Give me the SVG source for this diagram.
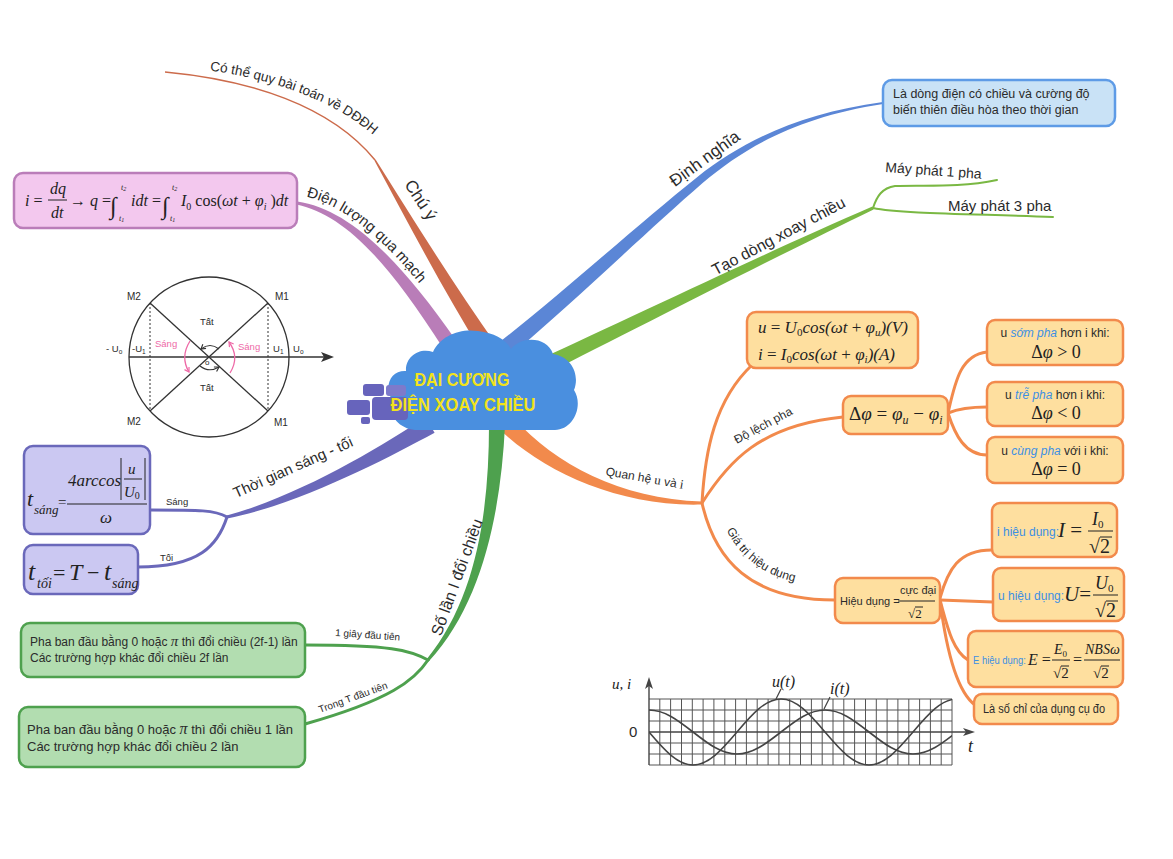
<svg xmlns="http://www.w3.org/2000/svg" width="1173" height="859" viewBox="0 0 1173 859">
  <style>
    .sans { font-family: "Liberation Sans", Arial, sans-serif; fill: #2b2b2b; }
    .m { font-family: "Liberation Serif", "Times New Roman", serif; font-style: italic; fill: #222; }
    .r { font-style: normal; }
    .hl { fill: #3d8fe3; font-style: italic; }
    .blue-t { fill: #3d8fe3; }
    .box-o { fill: #fedf9f; stroke: #f28a4c; stroke-width: 2.5; }
    .box-b { fill: #c9e2f6; stroke: #5e9be6; stroke-width: 2.5; }
    .box-p { fill: #f3c8ee; stroke: #ba7db9; stroke-width: 2.5; }
    .box-v { fill: #cbc8f2; stroke: #6a68ba; stroke-width: 2.5; }
    .box-g { fill: #b2ddb0; stroke: #4ea14e; stroke-width: 2.5; }
    .thin-o { fill: none; stroke: #f28a4c; stroke-width: 3; stroke-linecap: round; }
    .thin-g { fill: none; stroke: #4ea14e; stroke-width: 3; stroke-linecap: round; }
    .thin-lg { fill: none; stroke: #7ab843; stroke-width: 2; stroke-linecap: round; }
    .thin-v { fill: none; stroke: #6a68ba; stroke-width: 3; stroke-linecap: round; }
    .grid line { stroke: #555; stroke-width: 1; }
    .wave { fill: none; stroke: #444; stroke-width: 1.6; }
    .fl { stroke: #222; stroke-width: 1; }
  </style>
  <defs>
    <marker id="ah-pink" viewBox="0 0 8 8" refX="6" refY="4" markerWidth="7" markerHeight="7" markerUnits="userSpaceOnUse" orient="auto">
      <path d="M1,1 L6,4 L1,7" fill="none" stroke="#ee6aa7" stroke-width="1.4"/>
    </marker>
    <marker id="ah-dark" viewBox="0 0 8 8" refX="6" refY="4" markerWidth="7" markerHeight="7" markerUnits="userSpaceOnUse" orient="auto">
      <path d="M1,1 L6,4 L1,7" fill="none" stroke="#333" stroke-width="1.3"/>
    </marker>
    <path id="tp-chuy" d="M168,66 C254,72 339,96 388,149"/>
    <path id="tp-dienluong" d="M298.5,195 C346.7,203 399.2,249 460,338"/>
    <path id="tp-giatri" d="M716,502 C730,555 765,586 835,586"/>
    <clipPath id="grid-clip"><rect x="649" y="698" width="303" height="68"/></clipPath>
  </defs>

  <rect width="1173" height="859" fill="#ffffff"/>

  <!-- branches and connectors -->
  <g id="connectors">
    <!-- Chú ý -->
    <path d="M165,72 C250,80 330,105 375,160" fill="none" stroke="#cc6b4b" stroke-width="1.5"/>
    <path d="M496.9,345.8 C455.2,286.9 412.6,218.4 375.6,159.6 L374.4,160.4 C407.4,221.6 444.8,293.1 483.1,354.2 Z" fill="#cc6b4b"/>
    <!-- Điện lượng qua mạch -->
    <path d="M297.3,201.5 C345.6,208.6 394.6,252 456.2,340.8 L443.8,349.2 C385.4,258 344.4,215.4 296.7,204.5 Z" fill="#b97db8"/>
    <!-- Định nghĩa -->
    <path d="M489.4,350 C555.4,299.3 636.4,225.6 697.4,176.9 C743.1,140.7 799.8,113.3 882.9,102 L883.1,104 C800.2,116.7 746.9,145.3 702.6,183.1 C643.6,234.4 564.6,310.7 500.6,364 Z" fill="#5b86d6"/>
    <!-- Tạo dòng xoay chiều -->
    <path d="M536.5,360.8 C637.4,314.6 768.3,251.4 872.4,206.6 L873.6,209.4 C771.7,258.6 642.6,325.4 543.5,375.2 Z" fill="#7ab843"/>
    <path class="thin-lg" d="M873,208 C877,196 882,188 895,186 C925,185 960,188 997,180"/>
    <path class="thin-lg" d="M873,208 C900,214 980,214 1053,217"/>
    <!-- Quan hệ u và i -->
    <path d="M514.4,418.7 C554.6,463.5 620,499 702,501.5 L702,504.5 C620,507 545.4,472.5 501.6,431.3 Z" fill="#f28a4c"/>
    <path class="thin-o" d="M702,503 C705,450 715,400 752,365"/>
    <path class="thin-o" d="M702,503 C728,462 760,425 843,417"/>
    <path class="thin-o" d="M702,503 C715,560 750,600 835,600"/>
    <path class="thin-o" d="M948,413 C955,383 960,355 987,352"/>
    <path class="thin-o" d="M948,413 C960,408 975,407 987,407"/>
    <path class="thin-o" d="M948,413 C955,435 965,455 987,455"/>
    <path class="thin-o" d="M940,598 C948,570 958,550 992,550"/>
    <path class="thin-o" d="M940,600 L993,602"/>
    <path class="thin-o" d="M940,600 C947,625 952,650 968,660"/>
    <path class="thin-o" d="M940,600 C945,640 955,690 975,705"/>
    <!-- Số lần I đổi chiều -->
    <path d="M505,425.2 C501,510.1 483,602.6 429.1,661 L426.9,659 C477,597.4 489,509.9 489,424.8 Z" fill="#4ea14e"/>
    <path class="thin-g" d="M428,660 C410,650 390,645 305,645"/>
    <path class="thin-g" d="M428,660 C415,680 390,700 305,724"/>
    <!-- Thời gian sáng - tối -->
    <path d="M434.6,432.7 C388.3,457.6 300.9,503.9 227.3,518.5 L226.7,515.5 C299.1,496.1 381.7,446.4 425.4,417.3 Z" fill="#6a68ba"/>
    <path class="thin-v" d="M227,517 C215,510 200,510 150,510"/>
    <path class="thin-v" d="M227,517 C218,545 200,567 138,567"/>
  </g>

  <!-- branch labels -->
  <g id="branch-labels" class="sans">
    <text font-size="13.5"><textPath href="#tp-chuy" startOffset="42">Có thể quy bài toán về DĐĐH</textPath></text>
    <text font-size="17" transform="translate(416,203) rotate(57)" text-anchor="middle">Chú ý</text>
    <text font-size="15"><textPath href="#tp-dienluong" startOffset="8">Điện lượng qua mạch</textPath></text>
    <text font-size="17" transform="translate(708,163) rotate(-36)" text-anchor="middle">Định nghĩa</text>
    <text font-size="16" transform="translate(781,241) rotate(-28)" text-anchor="middle">Tạo dòng xoay chiều</text>
    <text font-size="14" transform="translate(885,172) rotate(4)">Máy phát 1 pha</text>
    <text font-size="15" x="948" y="211">Máy phát 3 pha</text>
    <text font-size="12" transform="translate(644,482) rotate(10)" text-anchor="middle">Quan hệ <tspan font-family="Liberation Serif, serif" font-size="13">u</tspan> và <tspan font-family="Liberation Serif, serif" font-size="13">i</tspan></text>
    <text font-size="12" transform="translate(765,429) rotate(-28)" text-anchor="middle">Độ lệch pha</text>
    <text font-size="12"><textPath href="#tp-giatri" startOffset="30">Giá trị hiệu dụng</textPath></text>
    <text font-size="16" transform="translate(462,579) rotate(-70)" text-anchor="middle">Số lần I đổi chiều</text>
    <text font-size="10" transform="translate(335,636) rotate(4)">1 giây đầu tiên</text>
    <text font-size="10" transform="translate(320,713) rotate(-20)">Trong T đầu tiên</text>
    <text font-size="15" transform="translate(295,472) rotate(-24)" text-anchor="middle">Thời gian sáng - tối</text>
    <text font-size="9.5" x="166" y="505">Sáng</text>
    <text font-size="9.5" x="160" y="561">Tối</text>
  </g>

  <!-- central topic -->
  <g id="center">
    <path d="M418,430 C400,430 387,416 391,398 C384,384 392,370 406,371 C405,357 419,347 433,352 C440,336 460,328 478,331 C495,333 506,340 511,349 C521,336 547,336 553,354 C572,357 580,375 574,390 C584,406 573,430 555,430 Z" fill="#4a8fdf"/>
    <g fill="#6764bc">
      <rect x="363" y="384" width="21" height="12" rx="3"/>
      <rect x="386" y="385" width="20" height="11" rx="3" fill="#7d7acb"/>
      <rect x="372" y="397" width="36" height="23" rx="4"/>
      <rect x="347" y="400" width="23" height="15" rx="3"/>
      <rect x="361" y="417" width="9" height="7" rx="2"/>
    </g>
    <text x="462" y="386" text-anchor="middle" font-family="Liberation Sans, Arial, sans-serif" font-weight="bold" font-size="18" fill="#f2e31b" textLength="95" lengthAdjust="spacingAndGlyphs">ĐẠI CƯƠNG</text>
    <text x="463" y="411" text-anchor="middle" font-family="Liberation Sans, Arial, sans-serif" font-weight="bold" font-size="18" fill="#f2e31b" textLength="145" lengthAdjust="spacingAndGlyphs">ĐIỆN XOAY CHIỀU</text>
  </g>

  <!-- definition -->
  <g id="node-dinh-nghia">
    <rect class="box-b" x="883" y="80" width="232" height="46" rx="9"/>
    <text class="sans" font-size="12.5" x="893" y="98">Là dòng điện có chiều và cường độ</text>
    <text class="sans" font-size="12.5" x="893" y="114">biến thiên điều hòa theo thời gian</text>
  </g>

  <!-- charge formula -->
  <g id="node-dien-luong">
    <rect class="box-p" x="14" y="173" width="283" height="55" rx="9"/>
    <g class="m" font-size="16">
      <text x="25" y="206">i <tspan class="r">=</tspan></text>
      <text x="50" y="194">dq</text>
      <line class="fl" x1="48" y1="200" x2="67" y2="200"/>
      <text x="51" y="218">dt</text>
      <text x="70" y="206"><tspan class="r">→</tspan> q <tspan class="r">=</tspan></text>
      <text x="110" y="214" font-size="24" class="r">∫</text>
      <text x="121" y="190" font-size="8">t<tspan font-size="6" dy="1">2</tspan></text>
      <text x="119" y="221" font-size="8">t<tspan font-size="6" dy="1">1</tspan></text>
      <text x="131" y="206">idt <tspan class="r">=</tspan></text>
      <text x="162" y="214" font-size="24" class="r">∫</text>
      <text x="172" y="190" font-size="8">t<tspan font-size="6" dy="1">2</tspan></text>
      <text x="170" y="221" font-size="8">t<tspan font-size="6" dy="1">1</tspan></text>
      <text x="181" y="206">I<tspan font-size="10" dy="4" class="r">0</tspan><tspan dy="-4" class="r"> cos(</tspan>ωt <tspan class="r">+</tspan> φ<tspan font-size="10" dy="4">i</tspan><tspan dy="-4" class="r"> )</tspan>dt</text>
    </g>
  </g>

  <!-- phase circle -->
  <g id="phase-circle">
    <circle cx="209" cy="357" r="80" fill="none" stroke="#333" stroke-width="1.3"/>
    <line x1="150" y1="303" x2="268" y2="411" stroke="#333" stroke-width="1.3"/>
    <line x1="268" y1="303" x2="150" y2="411" stroke="#333" stroke-width="1.3"/>
    <line x1="150" y1="303" x2="150" y2="411" stroke="#333" stroke-width="1" stroke-dasharray="2,2"/>
    <line x1="268" y1="303" x2="268" y2="411" stroke="#333" stroke-width="1" stroke-dasharray="2,2"/>
    <line x1="129" y1="357" x2="326" y2="357" stroke="#333" stroke-width="1.3"/>
    <path d="M334,357 L321,352 L324,357 L321,362 Z" fill="#333"/>
    <path d="M190,341 Q180,357 189,372" fill="none" stroke="#ee6aa7" stroke-width="1.3" marker-end="url(#ah-pink)"/>
    <path d="M230,373 Q240,357 229,342" fill="none" stroke="#ee6aa7" stroke-width="1.3" marker-end="url(#ah-pink)"/>
    <path d="M219,349 Q210,342 201,349" fill="none" stroke="#333" stroke-width="1.1" marker-end="url(#ah-dark)"/>
    <path d="M200,366 Q209,373 219,367" fill="none" stroke="#333" stroke-width="1.1" marker-end="url(#ah-dark)"/>
    <g class="sans" font-size="10">
      <text x="127" y="300">M2</text>
      <text x="275" y="300">M1</text>
      <text x="127" y="425">M2</text>
      <text x="274" y="426">M1</text>
      <text x="200" y="325" font-size="9.5">Tất</text>
      <text x="200" y="391" font-size="9.5">Tất</text>
      <text x="106" y="352" font-size="9.5">- U<tspan font-size="6.5" dy="2">o</tspan></text>
      <text x="132" y="352" font-size="9.5">-U<tspan font-size="6.5" dy="2">1</tspan></text>
      <text x="273" y="352" font-size="9.5">U<tspan font-size="6.5" dy="2">1</tspan></text>
      <text x="293" y="352" font-size="9.5">U<tspan font-size="6.5" dy="2">o</tspan></text>
      <text x="155" y="347" font-size="9.5" fill="#ee6aa7">Sáng</text>
      <text x="238" y="350" font-size="9.5" fill="#ee6aa7">Sáng</text>
      <text x="205" y="365" font-size="8">o</text>
    </g>
  </g>

  <!-- light / dark durations -->
  <g id="node-t-sang">
    <rect class="box-v" x="24" y="446" width="126" height="88" rx="9"/>
    <g class="m">
      <text x="27" y="506" font-size="22">t</text>
      <text x="34" y="514" font-size="13">sáng</text>
      <text x="58" y="507" font-size="15" class="r">=</text>
      <text x="68" y="486" font-size="17">4arccos</text>
      <line class="fl" x1="121" y1="458" x2="121" y2="500"/>
      <line class="fl" x1="145" y1="458" x2="145" y2="500"/>
      <text x="128" y="474" font-size="15">u</text>
      <line class="fl" x1="124" y1="479" x2="142" y2="479"/>
      <text x="124" y="497" font-size="15">U<tspan font-size="10" dy="2" class="r">0</tspan></text>
      <line class="fl" x1="67" y1="504" x2="147" y2="504"/>
      <text x="100" y="523" font-size="17">ω</text>
    </g>
  </g>
  <g id="node-t-toi">
    <rect class="box-v" x="24" y="545" width="114" height="49" rx="9"/>
    <g class="m">
      <text x="28" y="580" font-size="26">t</text>
      <text x="37" y="588" font-size="14">tối</text>
      <text x="53" y="580" font-size="22" class="r">=</text>
      <text x="69" y="580" font-size="24">T</text>
      <text x="87" y="580" font-size="22" class="r">−</text>
      <text x="104" y="580" font-size="26">t</text>
      <text x="112" y="588" font-size="14">sáng</text>
    </g>
  </g>

  <!-- direction reversals -->
  <g id="node-1-giay">
    <rect class="box-g" x="21" y="623" width="284" height="54" rx="9"/>
    <text class="sans" font-size="12" x="30" y="646">Pha ban đầu bằng 0 hoặc <tspan font-family="Liberation Serif, serif" font-style="italic" font-size="15">π</tspan> thì đổi chiều (2f-1) lần</text>
    <text class="sans" font-size="12" x="30" y="662">Các trường hợp khác đổi chiều 2f lần</text>
  </g>
  <g id="node-trong-T">
    <rect class="box-g" x="19" y="707" width="286" height="60" rx="9"/>
    <text class="sans" font-size="13" x="27" y="734">Pha ban đầu bằng 0 hoặc <tspan font-family="Liberation Serif, serif" font-style="italic" font-size="16">π</tspan> thì đổi chiều 1 lần</text>
    <text class="sans" font-size="13" x="27" y="751">Các trường hợp khác đổi chiều 2 lần</text>
  </g>

  <!-- u and i expressions -->
  <g id="node-bieu-thuc">
    <rect class="box-o" x="747" y="312" width="171" height="56" rx="9"/>
    <text class="m" font-size="17" x="758" y="333">u <tspan class="r">=</tspan> U<tspan font-size="11" dy="3" class="r">0</tspan><tspan dy="-3">cos(ωt <tspan class="r">+</tspan> φ</tspan><tspan font-size="11" dy="3">u</tspan><tspan dy="-3">)(V)</tspan></text>
    <text class="m" font-size="17" x="758" y="360">i <tspan class="r">=</tspan> I<tspan font-size="11" dy="3" class="r">0</tspan><tspan dy="-3">cos(ωt <tspan class="r">+</tspan> φ</tspan><tspan font-size="11" dy="3">i</tspan><tspan dy="-3">)(A)</tspan></text>
  </g>

  <!-- phase difference -->
  <g id="node-do-lech">
    <rect class="box-o" x="843" y="396" width="105" height="38" rx="8"/>
    <text class="m" font-size="19" x="849" y="420"><tspan class="r">Δ</tspan>φ <tspan class="r">=</tspan> φ<tspan font-size="12" dy="4">u</tspan><tspan dy="-4" class="r"> − </tspan>φ<tspan font-size="12" dy="4">i</tspan></text>
  </g>
  <g id="node-som-pha">
    <rect class="box-o" x="987" y="320" width="136" height="45" rx="8"/>
    <text class="sans" font-size="12" x="1055" y="337" text-anchor="middle">u <tspan class="hl">sớm pha</tspan> hơn i khi:</text>
    <text class="m" font-size="18" x="1056" y="358" text-anchor="middle"><tspan class="r">Δ</tspan>φ <tspan class="r">&gt; 0</tspan></text>
  </g>
  <g id="node-tre-pha">
    <rect class="box-o" x="987" y="382" width="136" height="44" rx="8"/>
    <text class="sans" font-size="12" x="1055" y="399" text-anchor="middle">u <tspan class="hl">trễ pha</tspan> hơn i khi:</text>
    <text class="m" font-size="18" x="1056" y="419" text-anchor="middle"><tspan class="r">Δ</tspan>φ <tspan class="r">&lt; 0</tspan></text>
  </g>
  <g id="node-cung-pha">
    <rect class="box-o" x="987" y="437" width="136" height="46" rx="8"/>
    <text class="sans" font-size="12" x="1055" y="455" text-anchor="middle">u <tspan class="hl">cùng pha</tspan> với i khi:</text>
    <text class="m" font-size="18" x="1056" y="475" text-anchor="middle"><tspan class="r">Δ</tspan>φ <tspan class="r">= 0</tspan></text>
  </g>

  <!-- effective values -->
  <g id="node-hieu-dung">
    <rect class="box-o" x="835" y="578" width="105" height="45" rx="8"/>
    <text class="sans" font-size="11" x="840" y="605">Hiệu dụng =</text>
    <text class="sans" font-size="11" x="900" y="594">cực đại</text>
    <line class="fl" x1="898" y1="601" x2="935" y2="601"/>
    <text class="m r" font-size="13" x="908" y="618">√2</text>
    <line class="fl" x1="915" y1="607" x2="923" y2="607"/>
  </g>
  <g id="node-i-hd">
    <rect class="box-o" x="992" y="503" width="125" height="54" rx="8"/>
    <text class="sans blue-t" font-size="12" x="997" y="536">i hiệu dụng:</text>
    <text class="m" font-size="21" x="1058" y="537">I <tspan class="r">=</tspan></text>
    <text class="m" font-size="18" x="1092" y="525">I<tspan font-size="11" dy="3" class="r">0</tspan></text>
    <line class="fl" x1="1088" y1="531" x2="1113" y2="531"/>
    <text class="m r" font-size="20" x="1089" y="553">√2</text>
    <line class="fl" x1="1100" y1="537" x2="1112" y2="537"/>
  </g>
  <g id="node-u-hd">
    <rect class="box-o" x="993" y="568" width="131" height="53" rx="8"/>
    <text class="sans blue-t" font-size="12" x="998" y="600">u hiệu dụng:</text>
    <text class="m" font-size="21" x="1064" y="601">U<tspan class="r">=</tspan></text>
    <text class="m" font-size="18" x="1095" y="589">U<tspan font-size="11" dy="3" class="r">0</tspan></text>
    <line class="fl" x1="1093" y1="595" x2="1118" y2="595"/>
    <text class="m r" font-size="20" x="1095" y="617">√2</text>
    <line class="fl" x1="1106" y1="601" x2="1118" y2="601"/>
  </g>
  <g id="node-e-hd">
    <rect class="box-o" x="968" y="631" width="155" height="56" rx="8"/>
    <text class="sans blue-t" font-size="10" x="973" y="664" textLength="53" lengthAdjust="spacingAndGlyphs">E hiệu dụng:</text>
    <text class="m" font-size="16" x="1028" y="665">E <tspan class="r">=</tspan></text>
    <text class="m" font-size="14" x="1054" y="654">E<tspan font-size="9" dy="3" class="r">0</tspan></text>
    <line class="fl" x1="1052" y1="660" x2="1070" y2="660"/>
    <text class="m r" font-size="15" x="1053" y="678">√2</text>
    <line class="fl" x1="1061" y1="666" x2="1069" y2="666"/>
    <text class="m r" font-size="16" x="1073" y="665">=</text>
    <text class="m" font-size="14" x="1085" y="654">NBSω</text>
    <line class="fl" x1="1084" y1="660" x2="1120" y2="660"/>
    <text class="m r" font-size="15" x="1093" y="678">√2</text>
    <line class="fl" x1="1101" y1="666" x2="1109" y2="666"/>
  </g>
  <g id="node-so-chi">
    <rect class="box-o" x="974" y="694" width="144" height="30" rx="8"/>
    <text class="sans" font-size="12.5" x="983" y="713" textLength="122" lengthAdjust="spacingAndGlyphs">Là số chỉ của dụng cụ đo</text>
  </g>

  <!-- u(t), i(t) graph -->
  <g id="graph-ui">
    <g class="grid">
      <line x1="649" y1="699" x2="952" y2="699"/>
      <line x1="649" y1="710" x2="952" y2="710"/>
      <line x1="649" y1="721" x2="952" y2="721"/>
      <line x1="649" y1="743" x2="952" y2="743"/>
      <line x1="649" y1="754" x2="952" y2="754"/>
      <line x1="649" y1="765" x2="952" y2="765"/>
      <line x1="659.8" y1="699" x2="659.8" y2="765"/>
      <line x1="670.6" y1="699" x2="670.6" y2="765"/>
      <line x1="681.5" y1="699" x2="681.5" y2="765"/>
      <line x1="692.3" y1="699" x2="692.3" y2="765"/>
      <line x1="703.1" y1="699" x2="703.1" y2="765"/>
      <line x1="713.9" y1="699" x2="713.9" y2="765"/>
      <line x1="724.8" y1="699" x2="724.8" y2="765"/>
      <line x1="735.6" y1="699" x2="735.6" y2="765"/>
      <line x1="746.4" y1="699" x2="746.4" y2="765"/>
      <line x1="757.2" y1="699" x2="757.2" y2="765"/>
      <line x1="768.1" y1="699" x2="768.1" y2="765"/>
      <line x1="778.9" y1="699" x2="778.9" y2="765"/>
      <line x1="789.7" y1="699" x2="789.7" y2="765"/>
      <line x1="800.5" y1="699" x2="800.5" y2="765"/>
      <line x1="811.4" y1="699" x2="811.4" y2="765"/>
      <line x1="822.2" y1="699" x2="822.2" y2="765"/>
      <line x1="833" y1="699" x2="833" y2="765"/>
      <line x1="843.8" y1="699" x2="843.8" y2="765"/>
      <line x1="854.6" y1="699" x2="854.6" y2="765"/>
      <line x1="865.5" y1="699" x2="865.5" y2="765"/>
      <line x1="876.3" y1="699" x2="876.3" y2="765"/>
      <line x1="887.1" y1="699" x2="887.1" y2="765"/>
      <line x1="897.9" y1="699" x2="897.9" y2="765"/>
      <line x1="908.8" y1="699" x2="908.8" y2="765"/>
      <line x1="919.6" y1="699" x2="919.6" y2="765"/>
      <line x1="930.4" y1="699" x2="930.4" y2="765"/>
      <line x1="941.2" y1="699" x2="941.2" y2="765"/>
      <line x1="952" y1="699" x2="952" y2="765"/>
    </g>
    <line x1="649" y1="765" x2="649" y2="686" stroke="#444" stroke-width="1.4"/>
    <path d="M649,677 L645,689 L649,686 L653,689 Z" fill="#444"/>
    <line x1="649" y1="732" x2="966" y2="732" stroke="#444" stroke-width="1.4"/>
    <path d="M975,732 L963,728 L966,732 L963,736 Z" fill="#444"/>
    <g clip-path="url(#grid-clip)">
      <path class="wave" d="M649,732 C664.5,750.2 677.5,765 693,765 C708.5,765 721.5,750.2 737,732 C752.5,713.8 765.5,699 781,699 C796.5,699 809.5,713.8 825,732 C840.5,750.2 853.5,765 869,765 C884.5,765 897.5,750.2 913,732 C928.5,713.8 941.5,699 957,699"/>
      <path class="wave" d="M649,710 C664.5,710 677.5,719.85 693,732 C708.5,744.15 721.5,754 737,754 C752.5,754 765.5,744.15 781,732 C796.5,719.85 809.5,710 825,710 C840.5,710 853.5,719.85 869,732 C884.5,744.15 897.5,754 913,754 C928.5,754 941.5,744.15 957,732"/>
    </g>
    <line x1="781" y1="689" x2="776" y2="699" stroke="#444" stroke-width="1.2"/>
    <line x1="830" y1="697" x2="824" y2="709" stroke="#444" stroke-width="1.2"/>
    <text class="m" font-size="16" x="772" y="687">u(t)</text>
    <text class="m" font-size="16" x="830" y="694">i(t)</text>
    <text class="m" font-size="15" x="612" y="689">u, i</text>
    <text class="sans" font-size="15" x="629" y="737">0</text>
    <text class="m" font-size="18" x="968" y="752">t</text>
  </g>
</svg>
